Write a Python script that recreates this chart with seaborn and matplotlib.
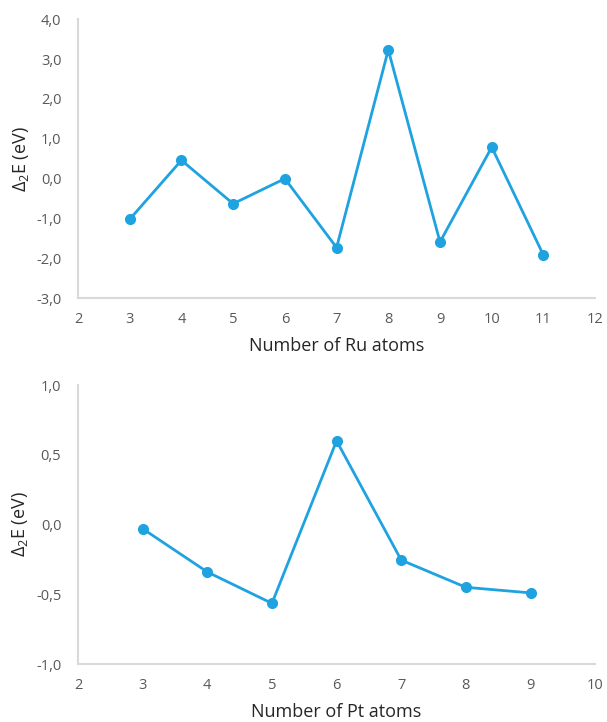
import numpy as np
import pandas as pd
import matplotlib
matplotlib.use("Agg")
import matplotlib.pyplot as plt
import seaborn as sns

# data
ru_atoms = [3, 4, 5, 6, 7, 8, 9, 10, 11]
ru_d2e = [-1.02, 0.46, -0.63, 0.0, -1.73, 3.23, -1.59, 0.79, -1.92]

pt_atoms = [3, 4, 5, 6, 7, 8, 9]
pt_d2e = [-0.03, -0.34, -0.565, 0.60, -0.255, -0.45, -0.49]

ru_yticks = [-3.0, -2.0, -1.0, 0.0, 1.0, 2.0, 3.0, 4.0]
pt_yticks = [-1.0, -0.5, 0.0, 0.5, 1.0]

sns.set_theme(style="white")
plt.rcParams["font.family"] = ["Open Sans", "DejaVu Sans"]
plt.rcParams["mathtext.fontset"] = "custom"
plt.rcParams["mathtext.rm"] = "Open Sans"
plt.rcParams["mathtext.it"] = "Open Sans"

line_color = "#1FA2E0"
spine_color = "#D9D9D9"
tick_color = "#595959"

fig = plt.figure(figsize=(6.07, 7.22), dpi=100)
ax1 = fig.add_axes([0.1285, 0.587, 0.852, 0.3864])
ax2 = fig.add_axes([0.1285, 0.0803, 0.852, 0.3864])


def style_axis(ax, xmin, xmax, yticks, xlabel):
    ax.set_xlim(xmin, xmax)
    ax.set_xticks(range(xmin, xmax + 1))
    ax.set_ylim(yticks[0], yticks[-1])
    ax.set_yticks(yticks)
    ax.set_yticklabels([f"{t:.1f}".replace(".", ",") for t in yticks])
    for side in ["top", "right"]:
        ax.spines[side].set_visible(False)
    for side in ["left", "bottom"]:
        ax.spines[side].set_color(spine_color)
        ax.spines[side].set_linewidth(1.5)
    ax.tick_params(axis="both", length=0, labelsize=10.5, colors=tick_color)
    ax.tick_params(axis="y", pad=12)
    ax.tick_params(axis="x", pad=10)
    ax.set_xlabel(xlabel, fontsize=13, color="#262626", labelpad=7)
    ax.set_ylabel(r"$\Delta_2$E (eV)", fontsize=13, color="#262626", labelpad=4)
    ax.grid(False)


df_ru = pd.DataFrame({"n": ru_atoms, "d2e": ru_d2e})
df_pt = pd.DataFrame({"n": pt_atoms, "d2e": pt_d2e})

sns.lineplot(data=df_ru, x="n", y="d2e", ax=ax1, color=line_color, linewidth=2,
             marker="o", markersize=8, markeredgewidth=0)
sns.lineplot(data=df_pt, x="n", y="d2e", ax=ax2, color=line_color, linewidth=2,
             marker="o", markersize=8, markeredgewidth=0)

style_axis(ax1, 2, 12, ru_yticks, "Number of Ru atoms")
style_axis(ax2, 2, 10, pt_yticks, "Number of Pt atoms")

fig.savefig("out.png", dpi=100)
